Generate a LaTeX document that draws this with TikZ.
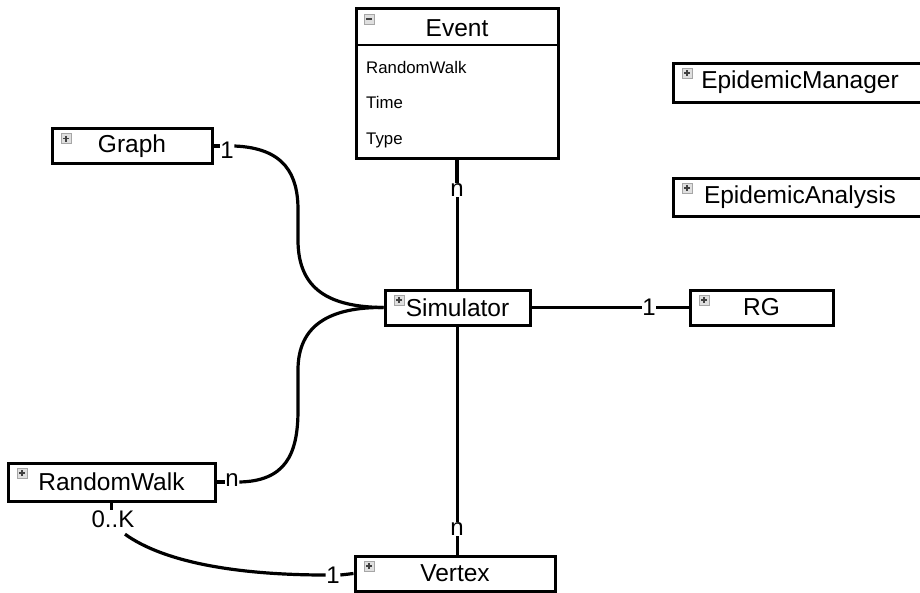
\documentclass[tikz,border=0pt]{standalone}
\usepackage{fontspec}
\setmainfont{Liberation Sans}
\begin{document}
\begin{tikzpicture}[x=1pt,y=-1pt,
  classbox/.style={draw, line width=3pt, fill=white, inner sep=0pt,
    font=\fontsize{24.5}{28}\selectfont,
    path picture={
      \draw[gray!70, line width=0.6pt, fill=gray!25]
        ([shift={(9pt,-5pt)}]path picture bounding box.north west)
        rectangle ++(10pt,-10pt);
      \draw[black!75, line width=1.1pt]
        ([shift={(11pt,-10pt)}]path picture bounding box.north west) -- ++(6pt,0pt)
        ([shift={(14pt,-7pt)}]path picture bounding box.north west) -- ++(0pt,-6pt);
    }},
  mult/.style={inner sep=0.5pt, font=\fontsize{24}{26}\selectfont},
  attr/.style={anchor=west, inner sep=0pt, font=\fontsize{16.8}{19}\selectfont},
  link/.style={line width=3.2pt}
]
\useasboundingbox (0,0) rectangle (920,592);
\clip (0,0) rectangle (920,592);

% Event class with its attribute compartment
\node[draw, line width=3pt, minimum width=202pt, minimum height=150pt, inner sep=0pt] (event) at (457,83) {};
\draw[line width=2.2pt] (356,45) -- (558,45);
\draw[gray!70, line width=0.6pt, fill=gray!25] (364,14) rectangle (374,24);
\draw[black!75, line width=1.1pt] (366,19) -- (372,19);
\node[font=\fontsize{24.5}{28}\selectfont, inner sep=0pt] (evtitle) at (457,28) {Event};
\node[attr] (a1) at (366,67) {RandomWalk};
\node[attr] (a2) at (366,102) {Time};
\node[attr] (a3) at (366,140) {Type};

% Collapsed classes
\node[classbox, minimum width=160pt, minimum height=35pt] (graph) at (132,146) {Graph};
\node[classbox, minimum width=145pt, minimum height=35pt] (sim) at (457.5,307.5) {Simulator};
\node[classbox, minimum width=143pt, minimum height=35pt] (rg) at (761.5,307.5) {RG};
\node[classbox, minimum width=207pt, minimum height=38pt] (rw) at (111.5,482) {RandomWalk};
\node[classbox, minimum width=200pt, minimum height=35pt] (vertex) at (455,573.5) {Vertex};
\node[classbox, minimum width=254pt, minimum height=39pt] (em) at (800,82.5) {EpidemicManager};
\node[classbox, minimum width=254pt, minimum height=38pt] (ea) at (800,197) {EpidemicAnalysis};

% Multiplicities
\node[mult] (mg) at (227,150) {1};
\node[mult] (me) at (457,190) {n};
\node[mult] (mw) at (232,480) {n};
\node[mult] (mr) at (649,307) {1};
\node[mult] (mv) at (457,529) {n};
\node[mult] (mk) at (113,519) {0..K};
\node[mult] (mx) at (333,575) {1};

% Associations
\draw[link] (graph.east) -- (graph.east -| mg.west);
\draw[link] (mg.east |- graph.east) .. controls (285,148) and (298,175) .. (298,210)
  -- (298,240) .. controls (298,290) and (330,307) .. (sim.west);
\draw[link] (rw.east) -- (rw.east -| mw.west);
\draw[link] (mw.east |- rw.east) .. controls (285,481) and (298,455) .. (298,410)
  -- (298,370) .. controls (298,325) and (330,307) .. (sim.west);
\draw[link] (event.south) -- (event.south |- me.north);
\draw[link] (sim.north |- me.south) -- (sim.north);
\draw[link] (sim.east) -- (sim.east -| mr.west);
\draw[link] (mr.east |- rg.west) -- (rg.west);
\draw[link] (sim.south) -- (sim.south |- mv.north);
\draw[link] (sim.south |- mv.south) -- (sim.south |- vertex.north);
\draw[link] (rw.south) -- (rw.south |- mk.north);
\draw[link] ([shift={(12pt,-6pt)}]mk.south) .. controls (165,563) and (240,575) .. (mx.west);
\draw[link] (mx.east) -- (vertex.west);
\end{tikzpicture}
\end{document}
